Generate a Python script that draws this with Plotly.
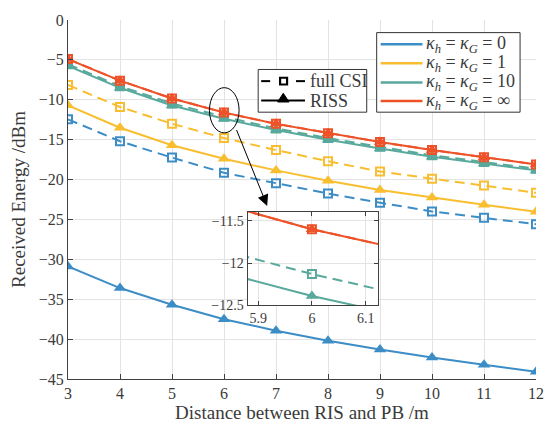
import plotly.graph_objects as go

# Distance between RIS and PB (m)
distance = [3, 4, 5, 6, 7, 8, 9, 10, 11, 12]

# Received energy (dBm), full-CSI benchmark
full_csi_k0 = [-12.45, -15.2, -17.25, -19.15, -20.45, -21.75, -22.9, -24.0, -24.8, -25.6]
full_csi_k1 = [-8.15, -10.9, -13.0, -14.8, -16.3, -17.7, -19.0, -19.9, -20.75, -21.65]
full_csi_k10 = [-5.55, -8.3, -10.46, -12.13, -13.59, -14.8, -15.9, -16.95, -17.8, -18.65]
full_csi_kinf = [-4.9, -7.6, -9.83, -11.6, -13.02, -14.2, -15.3, -16.3, -17.2, -18.1]

# Received energy (dBm), RISS scheme
riss_k0 = [-30.9, -33.6, -35.7, -37.5, -38.95, -40.2, -41.3, -42.3, -43.2, -44.1]
riss_k1 = [-10.7, -13.5, -15.7, -17.4, -18.85, -20.15, -21.3, -22.25, -23.15, -24.05]
riss_k10 = [-5.75, -8.5, -10.72, -12.39, -13.79, -15.0, -16.1, -17.15, -18.0, -18.85]
riss_kinf = [-4.9, -7.6, -9.83, -11.6, -13.02, -14.2, -15.3, -16.3, -17.2, -18.1]

kappa_labels = ["0", "1", "10", "∞"]
scheme_labels = ["full CSI", "RISS"]
colors = ["#3C8DC6", "#F8BE30", "#58A99C", "#EE5228"]

full_csi = [full_csi_k0, full_csi_k1, full_csi_k10, full_csi_kinf]
riss = [riss_k0, riss_k1, riss_k10, riss_kinf]

FONT = "Liberation Serif, Times New Roman, serif"
TXT = "#3a3a3a"
GRID = "#e3e3e3"
AX = "#404040"
DASH = "10px,6px"

# plot area in pixels (figure is 556 x 432)
L, R, T, B = 68, 18, 12, 50
PW, PH = 556 - L - R, 432 - T - B


def px(xp):
    return (xp - L) / PW


def py(yp):
    return (432 - B - yp) / PH


fig = go.Figure()

for axes in (("x", "y"), ("x2", "y2")):
    for c, fc, rc in zip(colors, full_csi, riss):
        fig.add_trace(go.Scatter(
            x=distance, y=fc, xaxis=axes[0], yaxis=axes[1], mode="lines+markers",
            line=dict(color=c, width=2, dash=DASH),
            marker=dict(symbol="square-open", size=8, color=c, line=dict(width=2, color=c)),
            showlegend=False, hoverinfo="skip"))
        fig.add_trace(go.Scatter(
            x=distance, y=rc, xaxis=axes[0], yaxis=axes[1], mode="lines+markers",
            line=dict(color=c, width=2),
            marker=dict(symbol="triangle-up", size=11, color=c),
            showlegend=False, hoverinfo="skip"))

shapes = []
annotations = []

# Line-style key (full CSI / RISS)
shapes.append(dict(type="rect", xref="paper", yref="paper", x0=px(259), x1=px(368), y0=py(107), y1=py(63),
                   line=dict(color="#333333", width=1), fillcolor="white", layer="above"))
ky = [75, 95]
shapes.append(dict(type="line", xref="paper", yref="paper", x0=px(262), x1=px(271), y0=py(ky[0]), y1=py(ky[0]),
                   line=dict(color="black", width=2), layer="above"))
shapes.append(dict(type="line", xref="paper", yref="paper", x0=px(297), x1=px(306), y0=py(ky[0]), y1=py(ky[0]),
                   line=dict(color="black", width=2), layer="above"))
shapes.append(dict(type="rect", xref="paper", yref="paper", x0=px(281), x1=px(288), y0=py(ky[0] + 3.5),
                   y1=py(ky[0] - 3.5), line=dict(color="black", width=2.2), fillcolor="white", layer="above"))
shapes.append(dict(type="line", xref="paper", yref="paper", x0=px(262), x1=px(306), y0=py(ky[1]), y1=py(ky[1]),
                   line=dict(color="black", width=2), layer="above"))
shapes.append(dict(type="path", xref="paper", yref="paper",
                   path=f"M {px(278.5)} {py(ky[1] + 1.5)} L {px(290)} {py(ky[1] + 1.5)} L {px(284.2)} {py(ky[1] - 7.5)} Z",
                   line=dict(color="black", width=1), fillcolor="black", layer="above"))
for yy, lab in zip(ky, scheme_labels):
    annotations.append(dict(x=px(309), y=py(yy), xref="paper", yref="paper", xanchor="left", yanchor="middle",
                            text=lab, showarrow=False, font=dict(size=18, family=FONT, color=TXT)))

# Colour key (Rician factors)
shapes.append(dict(type="rect", xref="paper", yref="paper", x0=px(378), x1=px(522), y0=py(107), y1=py(25),
                   line=dict(color="#333333", width=1), fillcolor="white", layer="above"))
cy = [37, 56.5, 76.3, 95.5]
for c, k, yy in zip(colors, kappa_labels, cy):
    shapes.append(dict(type="line", xref="paper", yref="paper", x0=px(382), x1=px(424), y0=py(yy), y1=py(yy),
                       line=dict(color=c, width=2.5), layer="above"))
    annotations.append(dict(
        x=px(426), y=py(yy), xref="paper", yref="paper", xanchor="left", yanchor="middle",
        text=f"<i>κ</i><sub><i>h</i></sub> = <i>κ</i><sub><i>G</i></sub> = {k}",
        showarrow=False, font=dict(size=18, family=FONT, color=TXT)))

# Zoom ellipse and arrow pointing to the inset
shapes.append(dict(type="circle", xref="x", yref="y", x0=5.72, x1=6.29, y0=-14.15, y1=-8.48,
                   line=dict(color="black", width=1)))
annotations.append(dict(x=6.83, y=-23.3, ax=6.23, ay=-13.6, xref="x", yref="y", axref="x", ayref="y",
                        text="", showarrow=True, arrowhead=2, arrowsize=2.2, arrowwidth=1, arrowcolor="black"))

fig.update_layout(
    width=556, height=432,
    margin=dict(l=L, r=R, t=T, b=B),
    paper_bgcolor="white", plot_bgcolor="white",
    font=dict(family=FONT, color=TXT, size=16),
    showlegend=False,
    shapes=shapes, annotations=annotations,
    xaxis=dict(
        range=[3, 12], tickvals=distance, showgrid=True, gridcolor=GRID, gridwidth=1,
        zeroline=False, showline=True, linecolor=AX, linewidth=1, mirror=False,
        ticks="inside", ticklen=5, tickcolor=AX, tickfont=dict(size=16, family=FONT),
        title=dict(text="Distance between RIS and PB /m", font=dict(size=19, family=FONT), standoff=4),
        domain=[0, 1]),
    yaxis=dict(
        range=[-45, 0], tickvals=[0, -5, -10, -15, -20, -25, -30, -35, -40, -45],
        showgrid=True, gridcolor=GRID, gridwidth=1,
        zeroline=False, showline=True, linecolor=AX, linewidth=1, mirror=False,
        ticks="inside", ticklen=5, tickcolor=AX, tickfont=dict(size=16, family=FONT),
        title=dict(text="Received Energy /dBm", font=dict(size=19, family=FONT), standoff=8),
        domain=[0, 1]),
    xaxis2=dict(
        range=[5.88, 6.123], tickvals=[5.9, 6, 6.1], anchor="y2",
        domain=[px(248.3), px(379.3)], showgrid=True, gridcolor=GRID,
        zeroline=False, showline=True, linecolor=AX, linewidth=1, mirror="ticks",
        ticks="inside", ticklen=4, tickcolor=AX, tickfont=dict(size=14, family=FONT)),
    yaxis2=dict(
        range=[-12.5, -11.397], tickvals=[-11.5, -12, -12.5], anchor="x2",
        domain=[py(306), py(210)], showgrid=True, gridcolor=GRID,
        zeroline=False, showline=True, linecolor=AX, linewidth=1, mirror="ticks",
        ticks="inside", ticklen=4, tickcolor=AX, tickfont=dict(size=14, family=FONT)),
)

fig.write_html("out.html")
